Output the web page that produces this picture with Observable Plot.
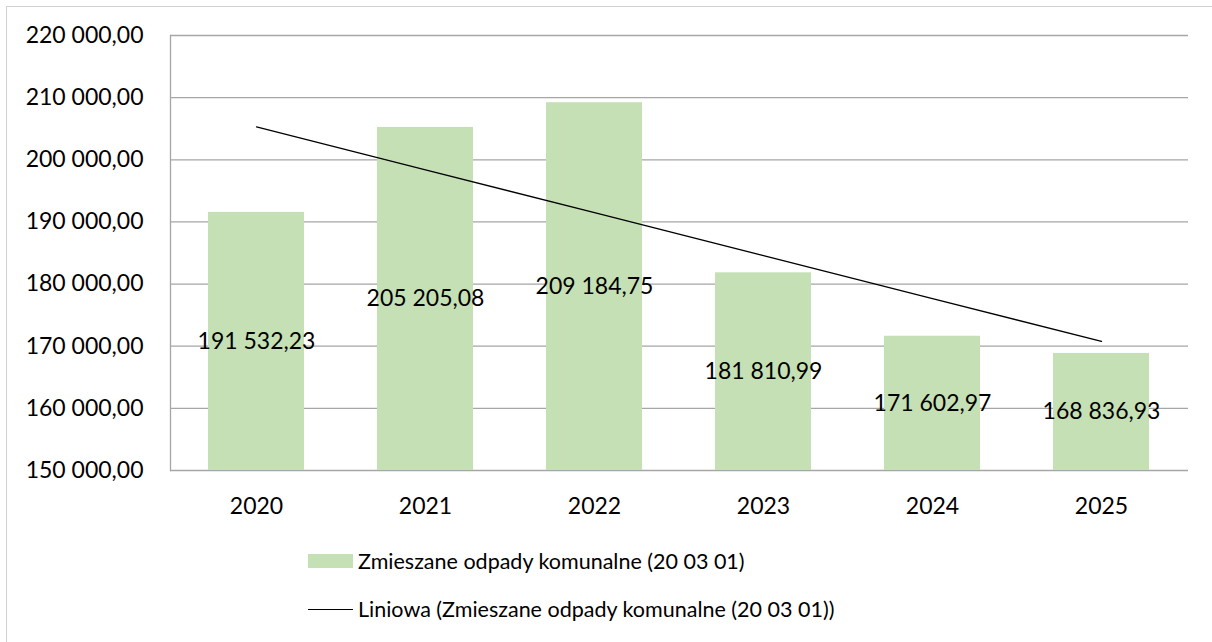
<!DOCTYPE html>
<html>
<head>
<meta charset="utf-8">
<script src="https://cdn.jsdelivr.net/npm/d3@7"></script>
<script src="https://cdn.jsdelivr.net/npm/@observablehq/plot@0.6"></script>
<style>
  html, body { margin: 0; padding: 0; background: #fff; }
  body { width: 1212px; height: 642px; position: relative; overflow: hidden; font-family: Lato, "Open Sans", sans-serif; }
  #border { position: absolute; left: 6px; top: 6px; width: 1220px; height: 650px; border: 1px solid #d0d0d0; box-sizing: border-box; }
  #chart { position: absolute; left: 0; top: 0; }
  .legend { position: absolute; left: 308px; font-size: 21.5px; color: #000; display: flex; align-items: center; white-space: nowrap; }
  .sw { display: inline-block; width: 45px; height: 14px; background: #c5e0b4; margin-right: 5px; }
  .ln { display: inline-block; width: 45px; height: 0; border-top: 1.3px solid #000; margin-right: 5px; }
</style>
</head>
<body>
<div id="border"></div>
<div id="chart"></div>
<div class="legend" style="top:548px"><span class="sw"></span>Zmieszane odpady komunalne (20 03 01)</div>
<div class="legend" style="top:596px"><span class="ln"></span>Liniowa (Zmieszane odpady komunalne (20 03 01))</div>
<script>
const years = ["2020", "2021", "2022", "2023", "2024", "2025"];
const values = [191532.23, 205205.08, 209184.75, 181810.99, 171602.97, 168836.93];
const yTicks = [150000, 160000, 170000, 180000, 190000, 200000, 210000, 220000];
const seriesName = "Zmieszane odpady komunalne (20 03 01)";

const pl = d3.formatLocale({decimal: ",", thousands: " ", grouping: [3], currency: ["", " zł"]});
const fmt = pl.format(",.2f");

const data = years.map((year, i) => ({year, value: values[i]}));

// linear trend (least squares over index)
const xs = values.map((_, i) => i + 1);
const mx = d3.mean(xs), my = d3.mean(values);
const slope = d3.sum(xs.map((x, i) => (x - mx) * (values[i] - my))) / d3.sum(xs.map(x => (x - mx) ** 2));
const intercept = my - slope * mx;
const trend = years.map((year, i) => ({year, value: intercept + slope * (i + 1)}));

const base = yTicks[0];

const plot = Plot.plot({
  width: 1212,
  height: 525,
  marginLeft: 170,
  marginRight: 24,
  marginTop: 35,
  marginBottom: 55,
  style: {fontFamily: "Lato, 'Open Sans', sans-serif", fontSize: "23px", color: "#000", background: "transparent", overflow: "visible"},
  x: {domain: years, paddingInner: 0.43, paddingOuter: 0.215, label: null},
  y: {domain: [150000, 220000], label: null},
  marks: [
    Plot.gridY(yTicks, {stroke: "#a6a6a6", strokeOpacity: 1, strokeWidth: 1.3}),
    Plot.frame({anchor: "left", stroke: "#a6a6a6", strokeWidth: 1.3}),
    Plot.barY(data, {x: "year", y1: base, y2: "value", fill: "#c5e0b4"}),
    Plot.line(trend, {x: "year", y: "value", stroke: "#000", strokeWidth: 1.3}),
    Plot.text(data, {x: "year", y: d => (d.value + base) / 2, text: d => fmt(d.value), fontSize: 23, fill: "#000"}),
    Plot.axisY(yTicks, {tickSize: 0, tickPadding: 27, tickFormat: fmt, fontSize: 23, label: null}),
    Plot.axisX({tickSize: 0, tickPadding: 27, fontSize: 23, label: null})
  ]
});
document.getElementById("chart").appendChild(plot);
</script>
</body>
</html>
